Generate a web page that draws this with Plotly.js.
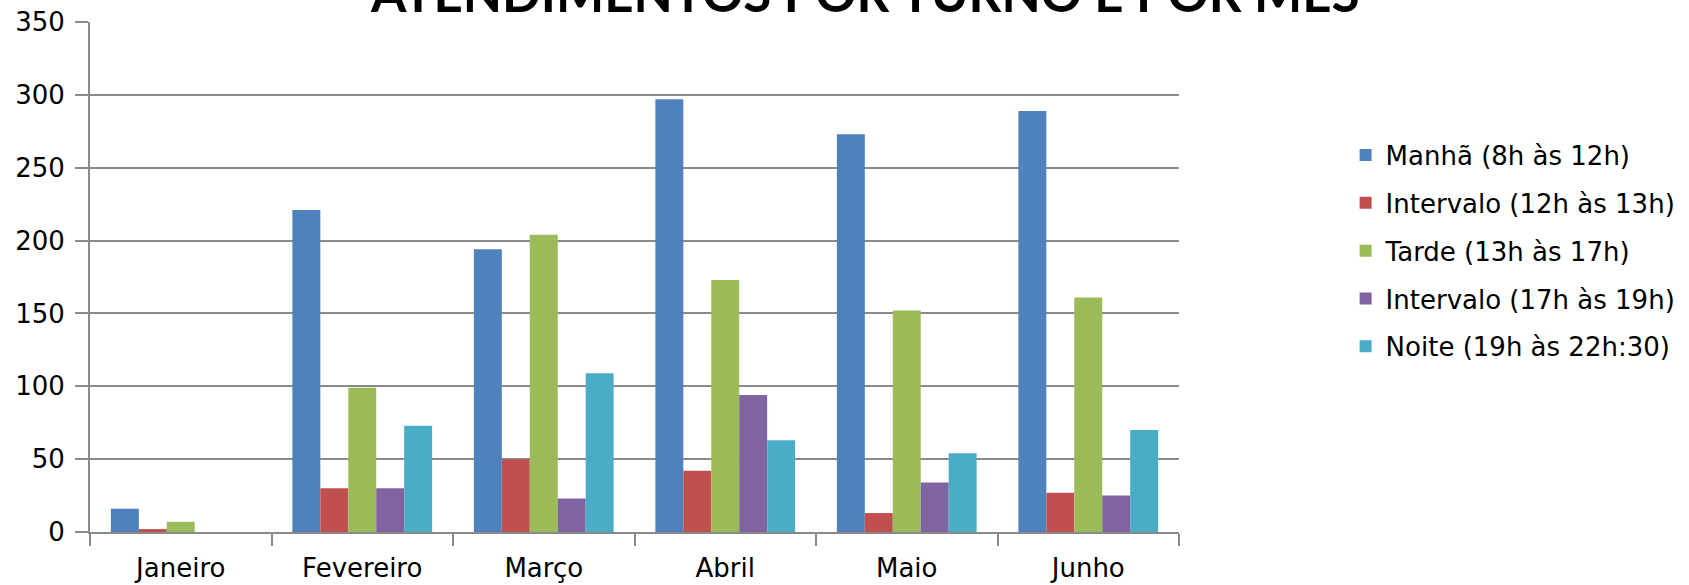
<!DOCTYPE html>
<html>
<head>
<meta charset="utf-8">
<script src="https://cdn.plot.ly/plotly-3.0.1.min.js"></script>
<style>html,body{margin:0;padding:0;background:#fff;}#chart{width:1689px;height:585px;}</style>
</head>
<body>
<div id="chart"></div>
<script>
const months = ["Janeiro", "Fevereiro", "Março", "Abril", "Maio", "Junho"];
const seriesNames = ["Manhã (8h às 12h)", "Intervalo (12h às 13h)", "Tarde (13h às 17h)", "Intervalo (17h às 19h)", "Noite (19h às 22h:30)"];
const manha = [16, 221, 194, 297, 273, 289];
const intervalo1 = [2, 30, 50, 42, 13, 27];
const tarde = [7, 99, 204, 173, 152, 161];
const intervalo2 = [0, 30, 23, 94, 34, 25];
const noite = [0, 73, 109, 63, 54, 70];
const yTicks = [0, 50, 100, 150, 200, 250, 300, 350];
const colors = ["#4F81BD", "#C0504D", "#9BBB59", "#8064A2", "#4BACC6"];
const titleText = "ATENDIMENTOS POR TURNO E POR MÊS";

const values = [manha, intervalo1, tarde, intervalo2, noite];
const FONT = "'DejaVu Sans', Verdana, sans-serif";
const TITLE_FONT = "Lato, 'Open Sans', sans-serif";

const traces = values.map((v, i) => ({
  type: "bar",
  x: months,
  y: v,
  name: seriesNames[i],
  legendgroup: "g" + i,
  marker: {color: colors[i], line: {width: 0}},
  hoverinfo: "skip"
}));

const layout = {
  width: 1689,
  height: 585,
  margin: {l: 90, r: 510, t: 22, b: 53, autoexpand: false},
  paper_bgcolor: "#ffffff",
  plot_bgcolor: "#ffffff",
  barmode: "group",
  bargap: 0.23,
  bargroupgap: 0,
  showlegend: true,
  annotations: [{
    text: "<b>" + titleText + "</b>",
    font: {family: TITLE_FONT, size: 51, color: "#000000"},
    xref: "paper", x: 0.711, xanchor: "center",
    yref: "paper", y: 1, yanchor: "bottom", yshift: -3,
    showarrow: false
  }],
  legend: {
    x: 1.153, xanchor: "left", y: 0.785, yanchor: "top",
    font: {family: FONT, size: 26, color: "#000000"},
    tracegroupgap: 11,
    bgcolor: "rgba(0,0,0,0)"
  },
  xaxis: {
    type: "category",
    tickson: "boundaries",
    ticks: "outside",
    ticklen: 12,
    tickwidth: 2,
    tickcolor: "#8a8a8a",
    showline: true,
    linecolor: "#8a8a8a",
    linewidth: 2,
    showgrid: false,
    tickfont: {family: FONT, size: 26, color: "#000000"},
    ticklabelstandoff: 12,
    fixedrange: true
  },
  yaxis: {
    range: [0, 350],
    tickvals: yTicks,
    ticktext: yTicks.map(String),
    ticks: "outside",
    ticklen: 13,
    tickwidth: 2,
    tickcolor: "#8a8a8a",
    showline: true,
    linecolor: "#8a8a8a",
    linewidth: 2,
    showgrid: true,
    gridcolor: "#8a8a8a",
    gridwidth: 2,
    zeroline: false,
    tickfont: {family: FONT, size: 26, color: "#000000"},
    ticklabelstandoff: 5,
    fixedrange: true
  }
};

Plotly.newPlot("chart", traces, layout, {displayModeBar: false, staticPlot: true});
</script>
</body>
</html>
